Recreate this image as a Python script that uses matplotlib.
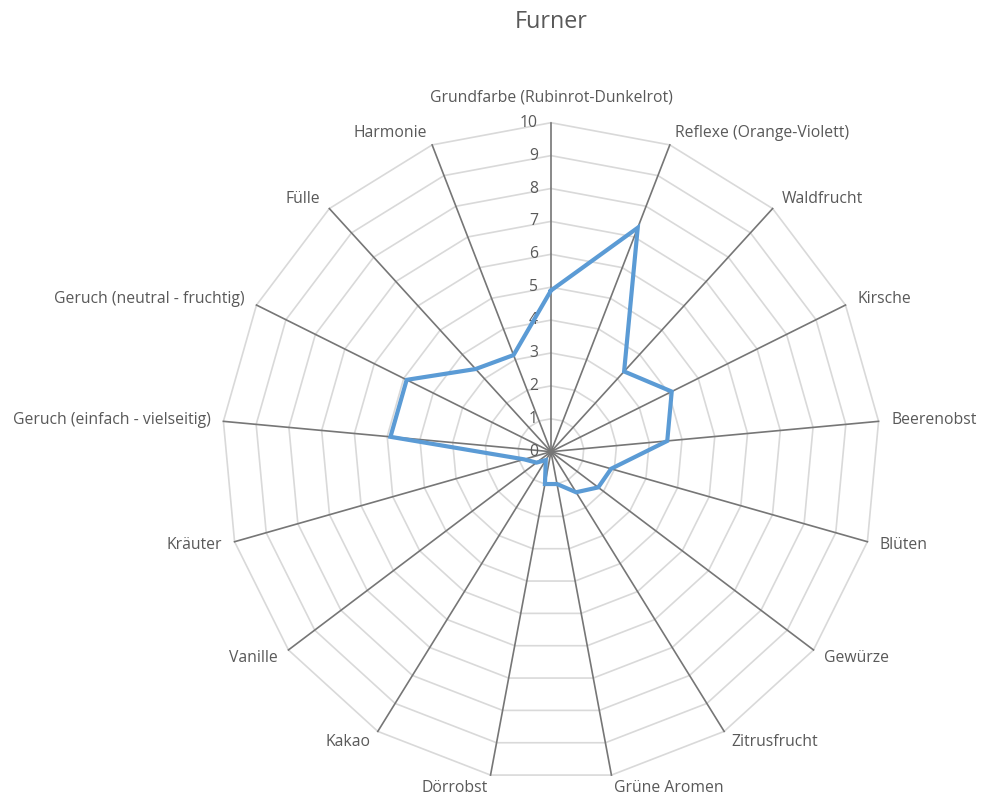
import numpy as np
import matplotlib
matplotlib.use("Agg")
import matplotlib.pyplot as plt

plt.rcParams['font.family'] = ['Open Sans', 'DejaVu Sans']

kategorien = ["Grundfarbe (Rubinrot-Dunkelrot)", "Reflexe (Orange-Violett)", "Waldfrucht",
              "Kirsche", "Beerenobst", "Blüten", "Gewürze", "Zitrusfrucht", "Grüne Aromen",
              "Dörrobst", "Kakao", "Vanille", "Kräuter", "Geruch (einfach - vielseitig)",
              "Geruch (neutral - fruchtig)", "Fülle", "Harmonie"]
werte = [4.9, 7.3, 3.3, 4.1, 3.55, 1.9, 1.8, 1.45, 1.0, 1.0, 0.3, 0.55, 0.85, 4.9, 4.9, 3.4, 3.15]
skala = list(range(0, 11))

text_farbe = "#595959"
n = len(kategorien)
winkel = np.linspace(0, 2 * np.pi, n, endpoint=False)
winkel_zu = np.append(winkel, winkel[0])

fig = plt.figure(figsize=(9.81, 8.01), dpi=100)
ax = fig.add_axes([0.2263, 0.02534, 0.6707, 0.8215], projection='polar')
ax.set_theta_zero_location('N')
ax.set_theta_direction(-1)
ax.set_ylim(0, 10)
ax.grid(False)
ax.spines['polar'].set_visible(False)
ax.set_xticks([])
ax.set_yticks([])
ax.patch.set_alpha(0)

# polygonale Ringe wie im Excel-Netzdiagramm
for s in skala[1:]:
    ax.plot(winkel_zu, [s] * (n + 1), color="#d9d9d9", lw=1.2, clip_on=False, zorder=1)

# Speichen
for w in winkel:
    ax.plot([w, w], [0, 10], color="#767676", lw=1.2, clip_on=False, zorder=2)

# Skalenbeschriftung links neben der oberen Speiche
for s in skala:
    ax.annotate(str(s), xy=(0, s), xytext=(-13, 0), textcoords='offset pixels',
                ha='right', va='center', fontsize=11.3, color=text_farbe, zorder=3)

# Kategorienamen aussen
for w, name in zip(winkel, kategorien):
    sx, cy = np.sin(w), np.cos(w)
    if abs(sx) < 0.05:
        ha, d = 'center', 25
    elif sx > 0:
        ha, d = 'left', 13
    else:
        ha, d = 'right', 13
    ax.annotate(name, xy=(w, 10), xytext=(d * sx, d * cy), textcoords='offset pixels',
                ha=ha, va='center', fontsize=11.3, color=text_farbe, annotation_clip=False)

ax.plot(winkel_zu, werte + werte[:1], color="#5b9bd5", lw=3.0, clip_on=False,
        solid_joinstyle='miter', zorder=4)

fig.text(551 / 981, 1 - 22 / 801, "Furner", ha='center', va='center', fontsize=16.8, color=text_farbe)

fig.savefig("out.png", dpi=100, facecolor="white")
